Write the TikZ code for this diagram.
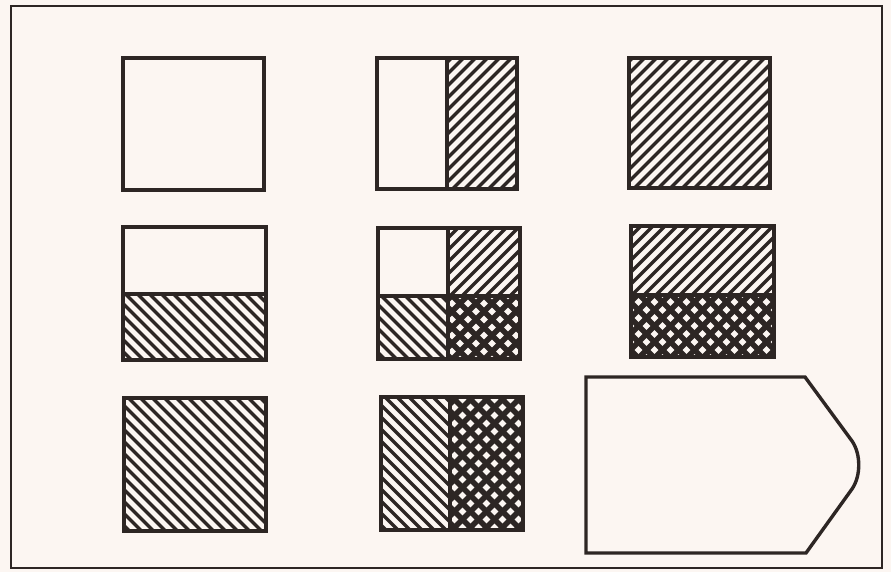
\documentclass[tikz,border=0pt]{standalone}
\definecolor{paper}{RGB}{252,246,242}
\definecolor{ink}{RGB}{45,38,36}
\tikzset{
  box/.style={draw=ink, line width=3.4pt, line join=miter},
  frame/.style={draw=ink, line width=2.8pt},
  stripeline/.style={draw=ink, line width=3.4pt},
  crossline/.style={draw=ink, line width=5.4pt},
}
% rising stripes "/" in rectangle (#1,#2)-(#3,#4) (pixel coordinates)
\newcommand\mkhatchA[4]{%
  \begin{scope}
    \clip (#1,#2) rectangle (#3,#4);
    \begin{scope}[shift={({(#1+#3)/2},{(#2+#4)/2})}]
      \foreach \k in {-168,-156,...,168}
        \draw[stripeline] (\k-100,100) -- (\k+100,-100);
    \end{scope}
  \end{scope}}
% falling stripes "\"
\newcommand\mkhatchB[4]{%
  \begin{scope}
    \clip (#1,#2) rectangle (#3,#4);
    \begin{scope}[shift={({(#1+#3)/2},{(#2+#4)/2})}]
      \foreach \k in {-168,-156,...,168}
        \draw[stripeline] (\k-100,-100) -- (\k+100,100);
    \end{scope}
  \end{scope}}
% crosshatch
\newcommand\mkhatchC[4]{%
  \begin{scope}
    \clip (#1,#2) rectangle (#3,#4);
    \begin{scope}[shift={({(#1+#3)/2},{(#2+#4)/2})}]
      \foreach \k in {-176,-160,...,176} {
        \draw[crossline] (\k-100,-100) -- (\k+100,100);
        \draw[crossline] (\k-100,100) -- (\k+100,-100);
      }
    \end{scope}
  \end{scope}}
\begin{document}
\begin{tikzpicture}[x=1pt,y=-1pt]
  \fill[paper] (0,0) rectangle (891,572);
  \useasboundingbox (0,0) rectangle (891,572);
  \draw[frame] (11,6) rectangle (882,568);

  % row 1
  \draw[box] (123,58) rectangle (264,190);
  \mkhatchA{447}{58}{517}{189}
  \draw[box] (377,58) rectangle (517,189);
  \draw[box] (447,58) -- (447,189);
  \mkhatchA{629}{58}{770}{188}
  \draw[box] (629,58) rectangle (770,188);

  % row 2
  \mkhatchB{123}{294}{266}{360}
  \draw[box] (123,227) rectangle (266,360);
  \draw[box] (123,294) -- (266,294);

  \mkhatchA{448}{228}{520}{296}
  \mkhatchB{378}{296}{448}{359}
  \mkhatchC{448}{296}{520}{359}
  \draw[box] (378,228) rectangle (520,359);
  \draw[box] (448,228) -- (448,359);
  \draw[box] (378,296) -- (520,296);

  \mkhatchA{631}{226}{774}{295}
  \mkhatchC{631}{295}{774}{357}
  \draw[box] (631,226) rectangle (774,357);
  \draw[box] (631,295) -- (774,295);

  % row 3
  \mkhatchB{124}{398}{266}{531}
  \draw[box] (124,398) rectangle (266,531);

  \mkhatchB{381}{397}{450}{530}
  \mkhatchC{450}{397}{523}{530}
  \draw[box] (381,397) rectangle (523,530);
  \draw[box] (450,397) -- (450,530);

  % shield-like shape
  \coordinate (s1) at (586,377);
  \coordinate (s2) at (805,377);
  \coordinate (s3) at (852,441);
  \coordinate (s4) at (852,489);
  \coordinate (s5) at (806,553);
  \coordinate (s6) at (586,553);
  \draw[box] (s1) -- (s2) -- (s3) .. controls (861,454) and (861,476) .. (s4)
    -- (s5) -- (s6) -- cycle;
\end{tikzpicture}
\end{document}
